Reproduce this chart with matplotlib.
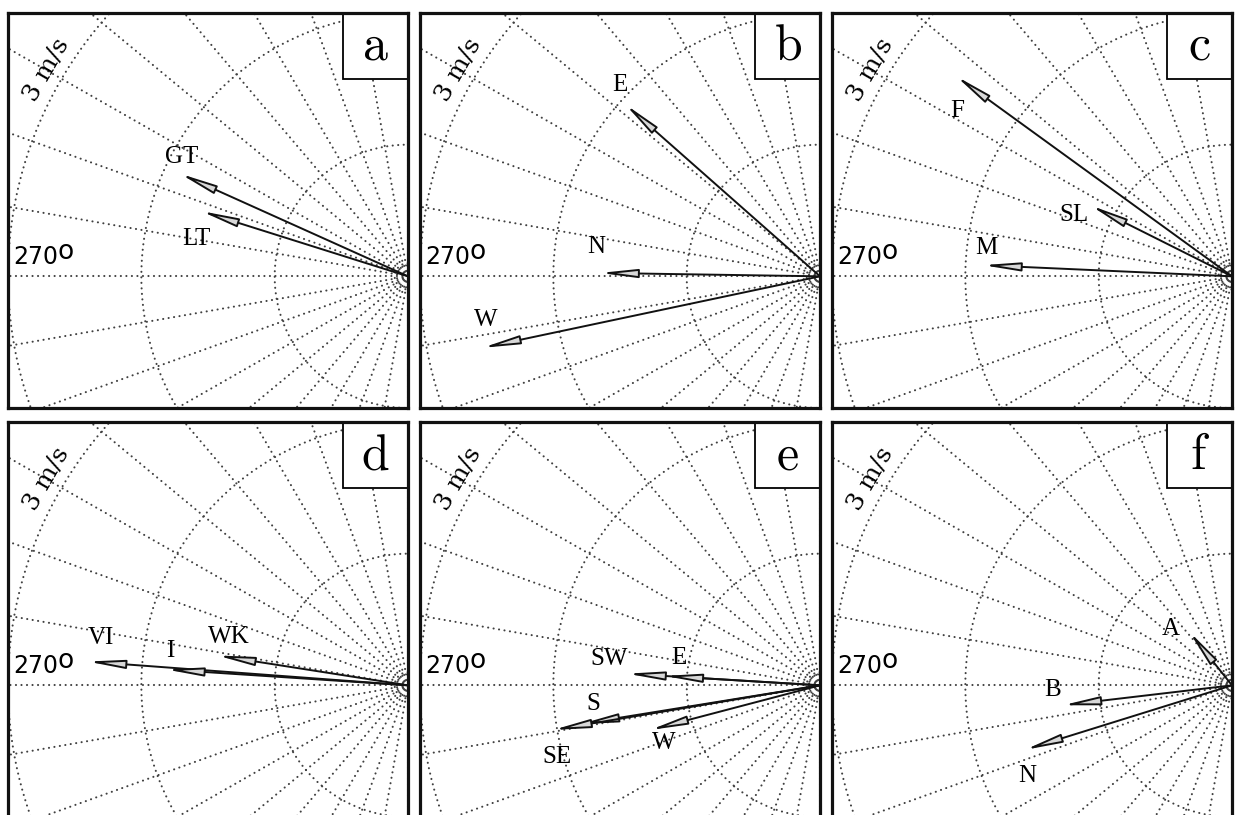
import numpy as np
import matplotlib
matplotlib.use("Agg")
import matplotlib.pyplot as plt
from matplotlib.patches import FancyArrowPatch, Rectangle

# ---------------- data (speed in m/s, direction in compass degrees) ----------------
panel_letters = ["a", "b", "c", "d", "e", "f"]

names_a = ["GT", "LT"]
speed_a = [1.88, 1.63]
dir_a = [294.5, 287.7]

names_b = ["E", "N", "W"]
speed_b = [1.96, 1.65, 2.59]
dir_b = [311.8, 270.9, 257.9]

names_c = ["F", "SL", "M"]
speed_c = [2.57, 1.19, 1.87]
dir_c = [306.3, 296.9, 272.6]

names_d = ["VI", "I", "WK"]
speed_d = [2.41, 1.82, 1.45]
dir_d = [274.3, 273.8, 279.0]

names_e = ["SW", "E", "S", "SE", "W"]
speed_e = [1.45, 1.17, 1.82, 2.03, 1.32]
dir_e = [273.5, 273.5, 260.7, 260.4, 255.1]

names_f = ["A", "B", "N"]
speed_f = [0.52, 1.28, 1.63]
dir_f = [321.8, 263.2, 252.5]

ring_radii = [0.1, 1, 2, 3]
spoke_step = 10
speed_label = "3 m/s"
dir_label = "270"

# label offsets from arrow tips (pixels) -- style only
offs_a = [(2, 17), (-5, -28)]
offs_b = [(-5, 19), (-4, 26), (3, 28)]
offs_c = [(1, -35), (-17, -10), (3, 17)]
offs_d = [(13, 24), (4, 18), (12, 18)]
offs_e = [(-18, 15), (15, 18), (13, 20), (4, -27), (14, -13)]
offs_f = [(-18, 3), (-10, 15), (2, -26)]

panels = [
    (names_a, speed_a, dir_a, offs_a),
    (names_b, speed_b, dir_b, offs_b),
    (names_c, speed_c, dir_c, offs_c),
    (names_d, speed_d, dir_d, offs_d),
    (names_e, speed_e, dir_e, offs_e),
    (names_f, speed_f, dir_f, offs_f),
]

W, H = 1236, 815
fig = plt.figure(figsize=(W / 100, H / 100), dpi=100)
fig.patch.set_facecolor("white")

lefts = [8, 420, 832]
tops = [13, 422]
pw, ph = 400, 395

grid_kw = dict(color="#404040", lw=1.5, ls=(0, (0.05, 2.6)),
               dash_capstyle="round")

for k, (names, speeds, dirs, offs) in enumerate(panels):
    r, c = divmod(k, 3)
    x0, y0 = lefts[c], tops[r]
    ax = fig.add_axes([x0 / W, 1 - (y0 + ph) / H, pw / W, ph / H])
    ax.set_xlim(-3, 0)
    ax.set_ylim(-1, 2)
    ax.set_xticks([])
    ax.set_yticks([])
    for s in ax.spines.values():
        s.set_linewidth(2.3)
        s.set_color("#111111")
        s.set_zorder(10)

    # rings
    t = np.linspace(0, 2 * np.pi, 720)
    for rr in ring_radii:
        ax.plot(rr * np.sin(t), rr * np.cos(t), **grid_kw)
    # spokes
    for a in range(0, 360, spoke_step):
        th = np.deg2rad(a)
        ax.plot([0, 5 * np.sin(th)], [0, 5 * np.cos(th)], **grid_kw)

    # arrows
    for nm, sp, dr, off in zip(names, speeds, dirs, offs):
        th = np.deg2rad(dr)
        u, v = sp * np.sin(th), sp * np.cos(th)
        arr = FancyArrowPatch((0, 0), (u, v),
                              arrowstyle="-|>,head_length=2.2,head_width=0.26",
                              mutation_scale=10, lw=1.4, shrinkA=0, shrinkB=0,
                              fc="#d8d8d8", ec="#111111", zorder=5, clip_on=False)
        ax.add_patch(arr)
        ax.annotate(nm, (u, v), xytext=off, textcoords="offset pixels",
                    ha="center", va="center", fontsize=18,
                    family="Liberation Serif", zorder=6)

    # speed label along the 3 m/s ring
    th = np.deg2rad(300)
    ax.text(3.13 * np.sin(th), 3.13 * np.cos(th), speed_label, rotation=60,
            ha="center", va="center", fontsize=18, family="DejaVu Serif",
            rotation_mode="anchor")
    # 270 label
    ax.annotate(dir_label, (-3, 0), xytext=(5, 7), textcoords="offset pixels",
                ha="left", va="bottom", fontsize=17, family="DejaVu Sans")
    ax.annotate("o", (-3, 0), xytext=(58, 24), textcoords="offset pixels",
                ha="center", va="center", fontsize=19, family="DejaVu Sans")

    # panel letter box
    bw, bh = 65 / pw * 3, 66 / ph * 3
    ax.add_patch(Rectangle((-bw, 2 - bh), bw, bh, fc="white", ec="black",
                           lw=1.3, zorder=8))
    ax.text(-bw / 2, 2 - bh / 2, r"$\mathrm{" + panel_letters[k] + "}$",
            ha="center", va="center", fontsize=36, math_fontfamily="cm",
            zorder=9)

fig.savefig("out.png", dpi=100, facecolor="white")
